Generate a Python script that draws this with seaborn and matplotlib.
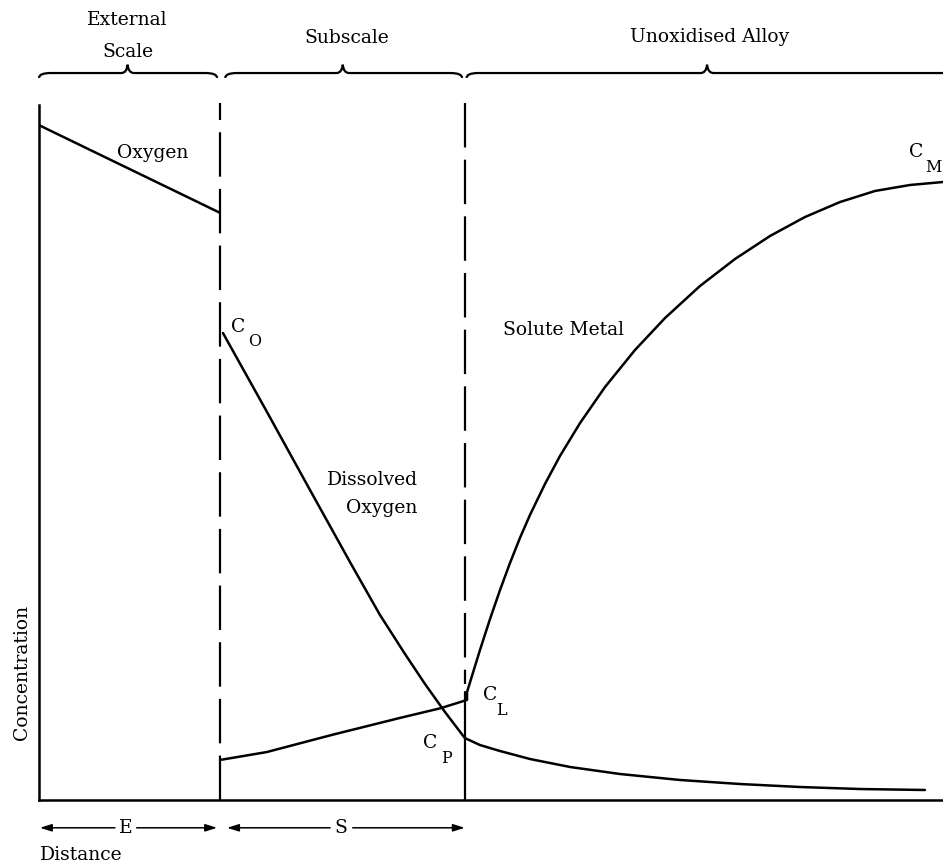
import matplotlib
matplotlib.use("Agg")
import matplotlib.pyplot as plt
import pandas as pd
import seaborn as sns
from matplotlib.path import Path
from matplotlib.patches import PathPatch

# Distance runs 0-100 across the plot, concentration 0-100 (arbitrary units)
scale_boundary = 20.0      # external scale / subscale interface
front_boundary = 47.1      # subscale / unoxidised alloy interface

oxygen_x = [0.0, 20.0]
oxygen_y = [97.1, 84.5]

dissolved_x = [20.35, 25.22, 29.98, 34.4, 37.72, 40.49, 42.7, 44.91, 47.1,
               48.78, 50.99, 54.31, 58.74, 64.27, 70.91, 77.54, 84.18, 90.82, 98.0]
dissolved_y = [67.19, 55.83, 44.6, 34.24, 26.62, 21.0, 16.69, 12.66, 8.92,
               7.91, 7.05, 5.90, 4.75, 3.74, 2.88, 2.30, 1.87, 1.58, 1.44]

solute_x = [20.2, 25.2, 32.5, 39.9, 44.4, 47.35,
            47.35, 48.78, 49.89, 51.0, 52.1, 53.2, 54.31, 55.97, 57.63, 59.85,
            62.61, 65.93, 69.25, 73.12, 76.99, 80.86, 84.73, 88.61, 92.48,
            96.35, 100.0]
solute_y = [5.8, 6.9, 9.4, 11.8, 13.2, 14.4,
            15.54, 21.58, 26.04, 30.22, 34.10, 37.70, 41.01, 45.47, 49.50, 54.24,
            59.42, 64.75, 69.35, 73.96, 77.84, 81.15, 83.88, 86.04, 87.63,
            88.49, 88.92]

c_l_level = 15.5

region_names = ["External\nScale", "Subscale", "Unoxidised Alloy"]
region_spans = [(0.0, 19.7), (20.6, 46.8), (47.3, 100.6)]
region_tips = [9.8, 33.6, 73.9]

sns.set_style("white")
plt.rcParams["font.family"] = ["DejaVu Serif"]
plt.rcParams["text.color"] = "black"

fig = plt.figure(figsize=(9.43, 8.67), dpi=100)
ax = fig.add_axes([39 / 943, 67 / 867, 904 / 943, 695 / 867])
ax.set_xlim(0, 100)
ax.set_ylim(0, 100)
ax.set_xticks([])
ax.set_yticks([])
for side in ("top", "right"):
    ax.spines[side].set_visible(False)
for side in ("left", "bottom"):
    ax.spines[side].set_linewidth(1.8)
    ax.spines[side].set_color("black")

line_kw = dict(color="black", linewidth=1.8, sort=False, estimator=None,
               legend=False, ax=ax)

sns.lineplot(data=pd.DataFrame({"x": oxygen_x, "y": oxygen_y}), x="x", y="y", **line_kw)
sns.lineplot(data=pd.DataFrame({"x": dissolved_x, "y": dissolved_y}), x="x", y="y", **line_kw)
sns.lineplot(data=pd.DataFrame({"x": solute_x, "y": solute_y}), x="x", y="y", **line_kw)

# interface markers
ax.plot([scale_boundary, scale_boundary], [0, 100.3], color="black",
        linewidth=1.6, dashes=(20, 5.5), clip_on=False)
ax.plot([front_boundary, front_boundary], [100.3, c_l_level + 1.2], color="black",
        linewidth=1.6, dashes=(20, 5.5), clip_on=False)
ax.plot([front_boundary, front_boundary], [0, c_l_level], color="black",
        linewidth=1.6)
ax.set_xlabel("")
ax.set_ylabel("")

fs = 13.5
sub = 11.5

# curve labels
ax.text(12.6, 93.1, "Oxygen", fontsize=fs, ha="center", va="center")
ax.text(36.9, 46.0, "Dissolved", fontsize=fs, ha="center", va="center")
ax.text(37.9, 42.0, "Oxygen", fontsize=fs, ha="center", va="center")
ax.text(58.0, 67.6, "Solute Metal", fontsize=fs, ha="center", va="center")


def conc_label(x, y, letter, dx=1.8, dy=-2.2):
    ax.text(x, y, "C", fontsize=fs, ha="center", va="center", clip_on=False)
    ax.text(x + dx, y + dy, letter, fontsize=sub, ha="center", va="center",
            clip_on=False)


conc_label(22.0, 68.1, "O")
conc_label(49.9, 15.1, "L", dx=1.3)
conc_label(43.3, 8.2, "P")
conc_label(97.0, 93.2, "M", dx=1.9)

# region braces above the plot
def brace(x0, x1, xm, y_end=103.9, y_line=104.6, y_tip=105.8, right_hook=True):
    hook = 1.3
    verts = [(x0, y_end), (x0, y_line), (x0 + hook, y_line),
             (xm - 0.7, y_line), (xm - 0.1, y_line), (xm, y_tip),
             (xm + 0.1, y_line), (xm + 0.7, y_line)]
    codes = [Path.MOVETO, Path.CURVE3, Path.CURVE3,
             Path.LINETO, Path.CURVE3, Path.CURVE3,
             Path.CURVE3, Path.CURVE3]
    if right_hook:
        verts += [(x1 - hook, y_line), (x1, y_line), (x1, y_end)]
        codes += [Path.LINETO, Path.CURVE3, Path.CURVE3]
    else:
        verts += [(x1, y_line)]
        codes += [Path.LINETO]
    patch = PathPatch(Path(verts, codes), fill=False, edgecolor="black",
                      linewidth=1.6, clip_on=False)
    ax.add_patch(patch)


for (x0, x1), xm, name in zip(region_spans, region_tips, region_names):
    brace(x0, x1, xm, right_hook=(x1 < 100))

ax.text(9.8, 112.2, "External", fontsize=fs, ha="center", va="center", clip_on=False)
ax.text(9.8, 107.6, "Scale", fontsize=fs, ha="center", va="center", clip_on=False)
ax.text(34.0, 109.6, "Subscale", fontsize=fs, ha="center", va="center", clip_on=False)
ax.text(74.2, 109.8, "Unoxidised Alloy", fontsize=fs, ha="center", va="center",
        clip_on=False)

# thickness arrows under the distance axis
arrow_y = -4.0
arrow_kw = dict(arrowstyle="-|>,head_length=0.7,head_width=0.22", color="black",
                linewidth=1.1, shrinkA=0, shrinkB=0)
for start, end in [(8.4, 0.1), (10.8, 19.7), (32.2, 20.8), (34.7, 47.1)]:
    ax.annotate("", xy=(end, arrow_y), xytext=(start, arrow_y),
                arrowprops=arrow_kw, annotation_clip=False)
ax.text(9.6, arrow_y, "E", fontsize=fs, ha="center", va="center", clip_on=False)
ax.text(33.4, arrow_y, "S", fontsize=fs, ha="center", va="center", clip_on=False)

ax.text(0.1, -7.9, "Distance", fontsize=fs, ha="left", va="center", clip_on=False)
ax.text(-1.9, 18.4, "Concentration", fontsize=fs, ha="center", va="center",
        rotation=90, clip_on=False)

fig.savefig("out.png", dpi=100, facecolor="white")
